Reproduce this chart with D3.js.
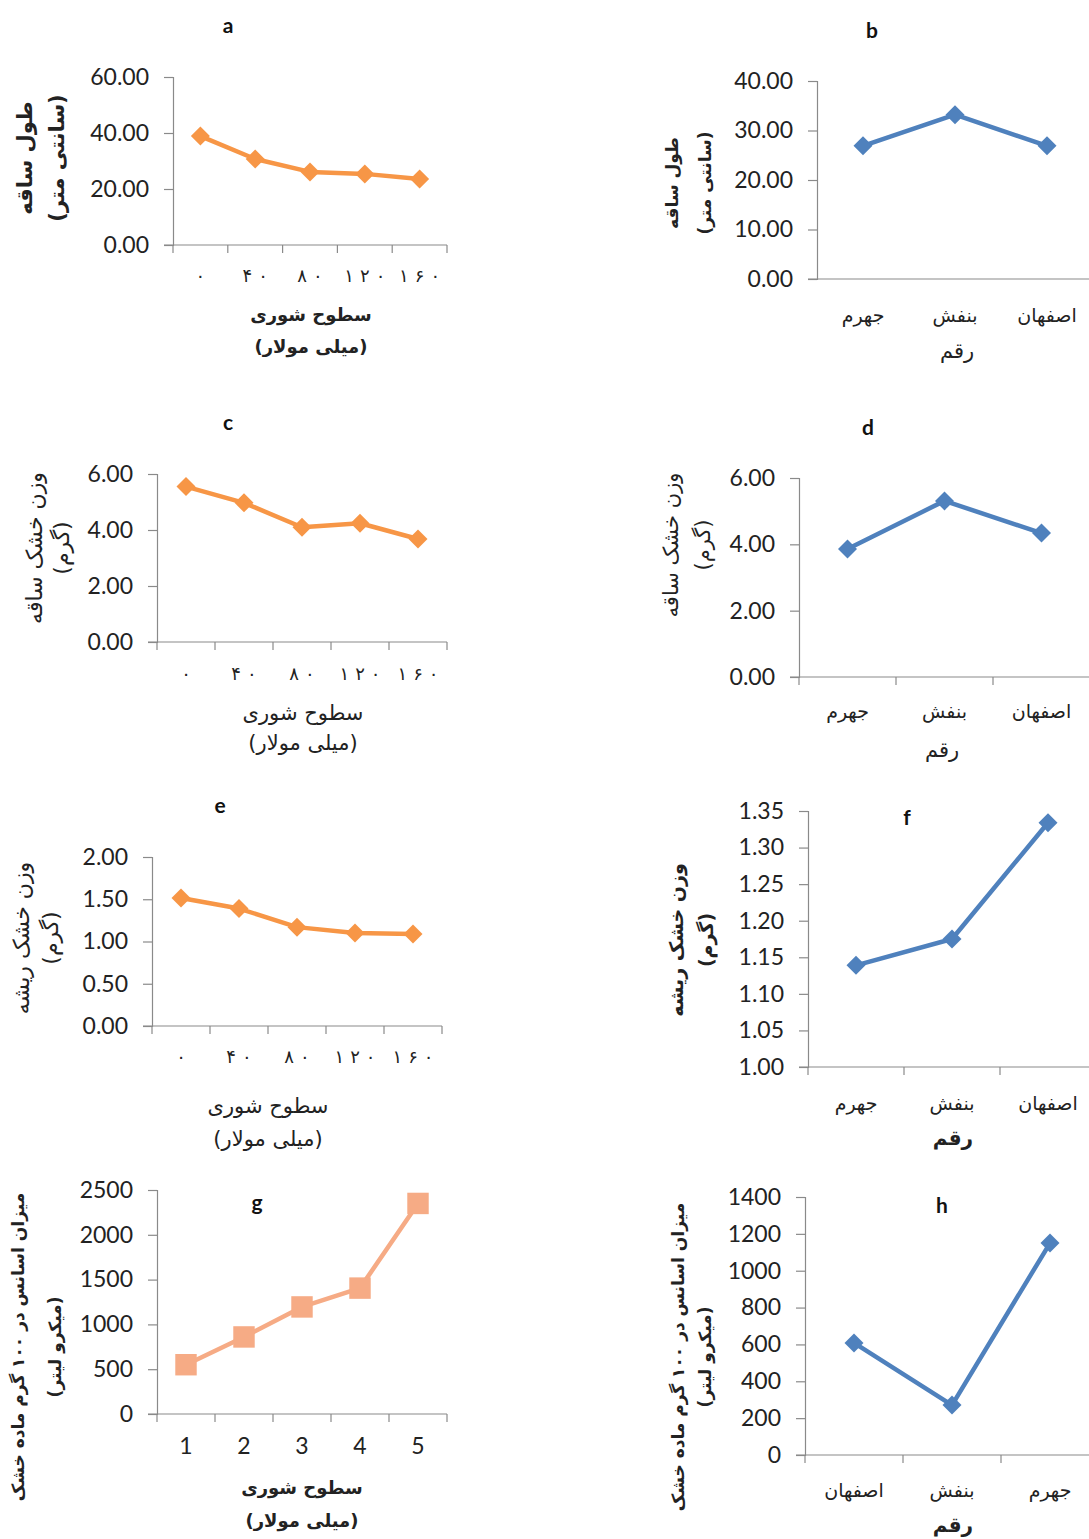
<!DOCTYPE html>
<html><head><meta charset="utf-8">
<script src="https://cdn.jsdelivr.net/npm/d3@7"></script>
<style>
html,body{margin:0;padding:0;background:#fff;}
svg{display:block;}
</style></head>
<body>
<svg id="chart" width="1089" height="1539"></svg>
<script>
// ---------- DATA ----------
const salinityLevels = ["۰","۴۰","۸۰","۱۲۰","۱۶۰"];
const salinityLevelsG = ["1","2","3","4","5"];
const cultivars = ["جهرم","بنفش","اصفهان"];
const cultivarsH = ["اصفهان","بنفش","جهرم"];

const stemLengthSalinity = [38.9, 30.7, 26.1, 25.4, 23.6];
const stemLengthCultivar = [26.9, 33.2, 26.9];
const stemDrySalinity = [5.55, 4.97, 4.10, 4.24, 3.68];
const stemDryCultivar = [3.86, 5.31, 4.34];
const rootDrySalinity = [1.515, 1.39, 1.17, 1.10, 1.09];
const rootDryCultivar = [1.139, 1.175, 1.334];
const oilSalinity = [550, 860, 1195, 1405, 2350];
const oilCultivar = [608, 271, 1150];

const ticksA = [0, 20, 40, 60];
const ticksB = [0, 10, 20, 30, 40];
const ticksCD = [0, 2, 4, 6];
const ticksE = [0, 0.5, 1, 1.5, 2];
const ticksF = [1.00, 1.05, 1.10, 1.15, 1.20, 1.25, 1.30, 1.35];
const ticksG = [0, 500, 1000, 1500, 2000, 2500];
const ticksH = [0, 200, 400, 600, 800, 1000, 1200, 1400];

const yTitleStemLen = ["طول ساقه", "(سانتی متر)"];
const yTitleStemDry = ["وزن خشک ساقه", "(گرم)"];
const yTitleRootDry = ["وزن خشک ریشه", "(گرم)"];
const yTitleOil = ["میزان اسانس در ۱۰۰ گرم ماده خشک", "(میکرو لیتر)"];
const xTitleSalinity = ["سطوح شوری", "(میلی مولار)"];
const xTitleCultivar = ["رقم"];

// ---------- STYLE ----------
const ORANGE = "#F79646", BLUE = "#4F81BD", SALMON = "#F6AB85", AXIS = "#8a8a8a";
const NUMFONT = "Lato, 'Open Sans', sans-serif";
const FAFONT = "'DejaVu Sans', sans-serif";

const svg = d3.select("#chart");

const panels = [
  {label:"a", lx:228, ly:28, cats:salinityLevels, vals:stemLengthSalinity, ticks:ticksA, fmt:d3.format(".2f"),
   x0:173, x1:447, yt:77, yb:245, color:ORANGE, marker:"diamond",
   catY:277, catFont:FAFONT, catSize:18, catSpacing:6, xTitle:xTitleSalinity, xTitleX:311, xTitleY:[316,348], xBold:true, xSize:18,
   yTitle:yTitleStemLen, yTX:[26,58], yTY:158, yBold:true, ySize:21, xTicks:true},
  {label:"b", lx:872, ly:33, cats:cultivars, vals:stemLengthCultivar, ticks:ticksB, fmt:d3.format(".2f"),
   x0:817, x1:1093, yt:81, yb:279, color:BLUE, marker:"diamond",
   catY:316, catFont:FAFONT, catSize:19, catSpacing:0, xTitle:xTitleCultivar, xTitleX:957, xTitleY:[352], xBold:false, xSize:21,
   yTitle:yTitleStemLen, yTX:[673,706], yTY:183, yBold:true, ySize:17, xTicks:false},
  {label:"c", lx:228, ly:425, cats:salinityLevels, vals:stemDrySalinity, ticks:ticksCD, fmt:d3.format(".2f"),
   x0:157, x1:447, yt:474, yb:642, color:ORANGE, marker:"diamond",
   catY:675, catFont:FAFONT, catSize:18, catSpacing:6, xTitle:xTitleSalinity, xTitleX:303, xTitleY:[714,744], xBold:false, xSize:21,
   yTitle:yTitleStemDry, yTX:[36,63], yTY:548, yBold:false, ySize:22, xTicks:true},
  {label:"d", lx:868, ly:430, cats:cultivars, vals:stemDryCultivar, ticks:ticksCD, fmt:d3.format(".2f"),
   x0:799, x1:1090, yt:478, yb:677, color:BLUE, marker:"diamond",
   catY:712, catFont:FAFONT, catSize:19, catSpacing:0, xTitle:xTitleCultivar, xTitleX:942, xTitleY:[751], xBold:false, xSize:21,
   yTitle:yTitleStemDry, yTX:[672,704], yTY:545, yBold:false, ySize:21, xTicks:true},
  {label:"e", lx:220, ly:808, cats:salinityLevels, vals:rootDrySalinity, ticks:ticksE, fmt:d3.format(".2f"),
   x0:152, x1:442, yt:857, yb:1026, color:ORANGE, marker:"diamond",
   catY:1058, catFont:FAFONT, catSize:18, catSpacing:6, xTitle:xTitleSalinity, xTitleX:268, xTitleY:[1107,1140], xBold:false, xSize:21,
   yTitle:yTitleRootDry, yTX:[23,52], yTY:938, yBold:false, ySize:22, xTicks:true},
  {label:"f", lx:907, ly:820, cats:cultivars, vals:rootDryCultivar, ticks:ticksF, fmt:d3.format(".2f"),
   x0:808, x1:1096, yt:811, yb:1067, color:BLUE, marker:"diamond",
   catY:1104, catFont:FAFONT, catSize:19, catSpacing:0, xTitle:xTitleCultivar, xTitleX:953, xTitleY:[1139], xBold:true, xSize:20,
   yTitle:yTitleRootDry, yTX:[677,707], yTY:940, yBold:true, ySize:19, xTicks:true},
  {label:"g", lx:257, ly:1205, cats:salinityLevelsG, vals:oilSalinity, ticks:ticksG, fmt:d3.format("d"),
   x0:157, x1:447, yt:1190, yb:1414, color:SALMON, marker:"square",
   catY:1448, catFont:NUMFONT, catSize:23, catSpacing:0, xTitle:xTitleSalinity, xTitleX:302, xTitleY:[1489,1522], xBold:true, xSize:18,
   yTitle:yTitleOil, yTX:[19,56], yTY:1347, yBold:true, ySize:17, xTicks:true},
  {label:"h", lx:942, ly:1208, cats:cultivarsH, vals:oilCultivar, ticks:ticksH, fmt:d3.format("d"),
   x0:805, x1:1099, yt:1197, yb:1455, color:BLUE, marker:"diamond",
   catY:1491, catFont:FAFONT, catSize:19, catSpacing:0, xTitle:xTitleCultivar, xTitleX:953, xTitleY:[1526], xBold:true, xSize:20,
   yTitle:yTitleOil, yTX:[679,706], yTY:1357, yBold:true, ySize:17, xTicks:true}
];

panels.forEach(p => {
  const g = svg.append("g");
  const x = d3.scaleBand().domain(p.cats).range([p.x0, p.x1]);
  const y = d3.scaleLinear().domain([p.ticks[0], p.ticks[p.ticks.length-1]]).range([p.yb, p.yt]);

  // y axis
  const ya = g.append("g").attr("transform", `translate(${p.x0},0)`)
    .call(d3.axisLeft(y).tickValues(p.ticks).tickFormat(p.fmt).tickSize(9).tickPadding(15));
  ya.select(".domain").attr("stroke", AXIS).attr("stroke-width", 1.2);
  ya.selectAll(".tick line").attr("stroke", AXIS).attr("stroke-width", 1.2);
  ya.selectAll(".tick text").attr("font-family", NUMFONT).attr("font-size", 23).attr("fill", "#222");

  // x axis
  const xa = g.append("g").attr("transform", `translate(0,${p.yb})`)
    .call(d3.axisBottom(x).tickSize(0).tickFormat(""));
  xa.select(".domain").attr("stroke", AXIS).attr("stroke-width", 1.2).attr("d", `M${p.x0 - 9},0H${p.x1}`);
  xa.selectAll(".tick").remove();
  if (p.xTicks) {
    const bounds = p.cats.map(c => x(c)).concat([p.x1]);
    xa.selectAll("line.bt").data(bounds).enter().append("line")
      .attr("x1", d => d).attr("x2", d => d).attr("y1", 0).attr("y2", 8)
      .attr("stroke", AXIS).attr("stroke-width", 1.2);
  }
  // category labels
  const cl = g.selectAll("text.cat").data(p.cats).enter().append("text")
    .attr("x", d => x(d) + x.bandwidth()/2).attr("y", p.catY)
    .attr("text-anchor", "middle").attr("dominant-baseline", "middle")
    .attr("font-family", p.catFont).attr("font-size", p.catSize).attr("fill", "#222");
  if (p.catSpacing) {
    // spaced digits (each digit its own tspan, same text content)
    cl.each(function(d) {
      const t = d3.select(this);
      Array.from(d).forEach((ch, i) => {
        t.append("tspan").attr("dx", i === 0 ? 0 : p.catSpacing).text(ch);
      });
    });
  } else {
    cl.text(d => d);
  }

  // x title
  p.xTitle.forEach((t, i) => {
    g.append("text").attr("x", p.xTitleX).attr("y", p.xTitleY[i])
      .attr("text-anchor", "middle").attr("dominant-baseline", "middle")
      .attr("font-family", FAFONT).attr("font-size", p.xSize)
      .attr("font-weight", p.xBold ? "bold" : "normal").attr("fill", "#222")
      .attr("direction", "rtl").attr("unicode-bidi", "plaintext")
      .text(t);
  });

  // y title
  p.yTitle.forEach((t, i) => {
    g.append("text")
      .attr("transform", `translate(${p.yTX[i]},${p.yTY}) rotate(-90)`)
      .attr("text-anchor", "middle").attr("dominant-baseline", "middle")
      .attr("font-family", FAFONT).attr("font-size", p.ySize)
      .attr("font-weight", p.yBold ? "bold" : "normal").attr("fill", "#222")
      .attr("direction", "rtl").attr("unicode-bidi", "plaintext")
      .text(t);
  });

  // line
  const pts = p.cats.map((c, i) => [x(c) + x.bandwidth()/2, y(p.vals[i])]);
  g.append("path").datum(pts)
    .attr("d", d3.line())
    .attr("fill", "none").attr("stroke", p.color).attr("stroke-width", 4.5).attr("stroke-linejoin", "round");

  // markers
  const sym = p.marker === "square" ? d3.symbolSquare : d3.symbolDiamond2;
  const size = p.marker === "square" ? 460 : 230;
  g.selectAll("path.mk").data(pts).enter().append("path")
    .attr("transform", d => `translate(${d[0]},${d[1]})`)
    .attr("d", d3.symbol().type(sym).size(size))
    .attr("fill", p.color);

  // panel label
  g.append("text").attr("x", p.lx).attr("y", p.ly)
    .attr("text-anchor", "middle").attr("dominant-baseline", "middle")
    .attr("font-family", NUMFONT).attr("font-weight", "bold").attr("font-size", 21).attr("fill", "#111")
    .text(p.label);
});
</script>
</body></html>
